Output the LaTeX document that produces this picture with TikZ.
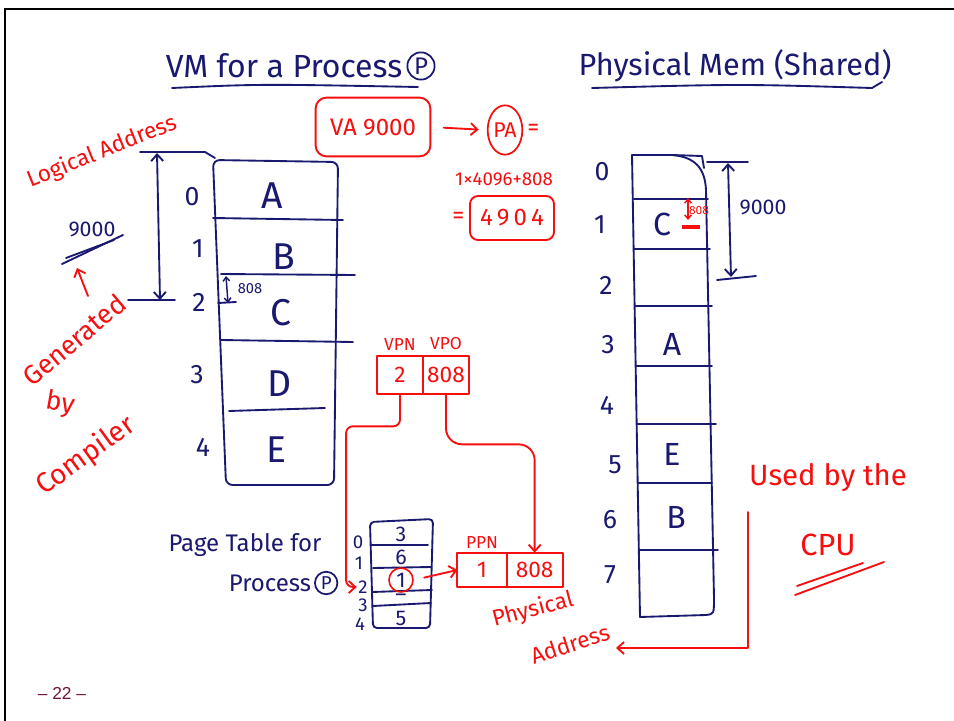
\documentclass[tikz,border=0pt]{standalone}
\usepackage{fontspec}
\setmainfont{Fira Sans}
\newfontfamily\slidefont{Liberation Sans}
\usetikzlibrary{arrows.meta,positioning,calc,shapes.geometric}
\definecolor{inkblue}{RGB}{25,25,112}
\definecolor{penred}{RGB}{245,15,15}
\definecolor{pagenum}{RGB}{112,22,64}
\newcommand{\fsz}[1]{\fontsize{#1}{#1}\selectfont}
\tikzset{
  ink/.style   ={draw=inkblue,line width=1.4pt,line cap=round,line join=round},
  pen/.style   ={draw=penred,line width=1.4pt,line cap=round,line join=round},
  ar/.style    ={-{Straight Barb[length=5pt,width=9pt]}},
  dar/.style   ={{Straight Barb[length=5pt,width=9pt]}-{Straight Barb[length=5pt,width=9pt]}},
  sdar/.style  ={{Straight Barb[length=3pt,width=5pt]}-{Straight Barb[length=3pt,width=5pt]}},
  bl/.style    ={text=inkblue,inner sep=1pt},
  rd/.style    ={text=penred,inner sep=1pt},
  cell/.style  ={bl,font=\fsz{28}},
  idx/.style   ={bl,font=\fsz{20}},
  rbox/.style  ={pen,rd,outer sep=0pt,font=\fsz{17}},
  circ/.style  ={circle,draw=inkblue,line width=1.3pt,text=inkblue,inner sep=1.5pt},
}
\begin{document}
\begin{tikzpicture}[x=0.75pt,y=-0.75pt]
  \useasboundingbox (0,0) rectangle (954,721);
  \fill[white] (0,0) rectangle (954,721);
  % slide frame and page number
  \draw[line width=2.2pt] (5,721) -- (5,9) -- (954,9);
  \node[font=\slidefont\fsz{13},text=pagenum] (pgno) at (62,693) {– 22 –};

  % titles
  \node[bl,font=\fsz{24}] (vmtitle) at (284,66) {VM for a Process};
  \node[circ,font=\fsz{18},right=2pt of vmtitle] (vmp) {P};
  \draw[ink] (172,88) .. controls (260,84) .. (418,87);
  \node[bl,font=\fsz{23}] (pmtitle) at (735,66) {Physical Mem (Shared)};
  \draw[ink] (592,88) .. controls (740,84) .. (872,88) -- (882,82);

  % virtual memory of process P
  \draw[ink,rounded corners=5pt] (213,160) -- (226,485) -- (334,485) -- (338,162) -- cycle;
  \draw[ink] (213,218) -- (343,220);
  \draw[ink] (221,274) -- (355,275);
  \draw[ink] (221,340) -- (353,342);
  \draw[ink] (229,411) -- (325,408);
  \foreach \n/\t/\x/\y in {vA/A/272/196,vB/B/284/257,vC/C/281/313,vD/D/280/384,vE/E/276/450}
    \node[cell] (\n) at (\x,\y) {\t};
  \foreach \i/\x/\y in {0/192/197,1/198/249,2/199/302,3/197/375,4/203/447}
    \node[idx] (vi\i) at (\x,\y) {\i};

  % logical address span
  \draw[ink] (140,152) -- (205,152) -- (215,158);
  \draw[ink] (128,300) -- (175,300);
  \coordinate (latop) at (157,153);
  \coordinate (labot) at (160,300);
  \draw[ink,dar] (latop) -- (labot);
  \coordinate (offtop) at (226,276);
  \coordinate (offbot) at (228,303);
  \draw[ink,sdar,line width=1.1pt] (offtop) -- (offbot);
  \draw[ink] (218,303) -- (236,302);
  \node[bl,font=\fsz{11}] (voff) at (250,289) {808};

  \node[rd,font=\fsz{17},rotate=22] (logaddr) at (102,152) {Logical Address};
  \node[bl,font=\fsz{16}] (nine) at (92,229) {9000};
  \draw[ink] (62,264) -- (123,235);
  \draw[ink] (66,258) -- (114,240);
  \node[rd,font=\fsz{20},rotate=40] (gen) at (74,340) {Generated};
  \node[rd,font=\fsz{20},rotate=-10] (by) at (60,404) {by};
  \node[rd,font=\fsz{21},rotate=36] (comp) at (86,456) {Compiler};
  \coordinate (genup) at (88,296);
  \coordinate (nineup) at (77,268);
  \draw[pen,ar] (genup) -- (nineup);

  % address translation
  \node[rbox,rounded corners=8pt,minimum width=86pt,minimum height=44pt,font=\fsz{18}] (va) at (373,127) {VA 9000};
  \node[rd,ellipse,draw=penred,line width=1.3pt,inner sep=0pt,minimum width=26pt,minimum height=37pt,font=\fsz{16}] (pa) at (505,130) {PA};
  \draw[pen,ar,shorten <=10pt,shorten >=6pt] (va.east) -- (pa.west);
  \node[rd,font=\fsz{18},right=2pt of pa] (paeq) {=};
  \node[rd,font=\fsz{14}] (pacalc) at (504,179) {1×4096+808};
  \node[rbox,rounded corners=6pt,minimum width=63pt,minimum height=33pt,font=\fsz{18}] (res) at (512,218) {4\,9\,0\,4};
  \node[rd,font=\fsz{18},left=3pt of res] (reseq) {=};

  % VPN / VPO
  \node[rbox,minimum width=34pt,minimum height=29pt] (vpn) at (400,375) {2};
  \node[rbox,minimum width=35pt,minimum height=29pt,right=0pt of vpn] (vpo) {808};
  \node[rd,font=\fsz{13},above=3pt of vpn] (vpnl) {VPN};
  \node[rd,font=\fsz{13},above=3pt of vpo] (vpol) {VPO};

  % page table
  \node[bl,font=\fsz{18}] (pttitle) at (245,545) {Page Table for};
  \node[bl,font=\fsz{18}] (ptproc) at (270,583) {Process};
  \node[circ,font=\fsz{14},right=1pt of ptproc] (ptp) {P};
  \draw[ink,rounded corners=3pt] (370,522) -- (373,628) -- (430,628) -- (433,519) -- cycle;
  \draw[ink] (371,545) -- (428,545);
  \draw[ink] (373,568) -- (431,567);
  \draw[ink] (372,592) -- (432,590);
  \draw[ink] (373,606) -- (431,603);
  \foreach \i/\x/\y in {0/358/542,1/359/563,2/363/587,3/363/605,4/360/624}
    \node[idx,font=\fsz{14}] (pi\i) at (\x,\y) {\i};
  \foreach \i/\v/\y in {0/3/534,1/6/557,2/1/580,3/–/598,4/5/618}
    \node[bl,font=\fsz{16}] (pv\i) at (401,\y) {\v};
  \node[circle,draw=penred,line width=1.2pt,minimum size=18pt,inner sep=0pt] (pv2c) at (pv2) {};

  % physical address
  \node[rbox,minimum width=37pt,minimum height=26pt] (ppn) at (482,570) {1};
  \node[rbox,minimum width=42pt,minimum height=26pt,right=0pt of ppn] (ppo) {808};
  \node[rd,font=\fsz{13},above=2pt of ppn] (ppnl) {PPN};
  \node[rd,font=\fsz{17},rotate=15] (phys) at (533,610) {Physical};
  \node[rd,font=\fsz{17},rotate=18] (addr) at (570,644) {Address};

  % connectors
  \draw[pen,ar,rounded corners=5pt] (vpn.south) -- ++(0,32) -| ([xshift=-8pt]pi2.west) -- (pi2.west);
  \draw[pen,ar,rounded corners=12pt] (vpo.south) -- ++(0,50) -| (ppo.north);
  \draw[pen,ar,shorten <=8pt] (pv2c.east) -- (ppn.west);

  % physical memory
  \draw[ink] (632,155) -- (640,617) -- (706,615) .. controls (714,614) .. (714,598) -- (706,190) .. controls (705,168) and (695,157) .. (672,155) -- cycle;
  \draw[ink] (672,155) -- (702,156) -- (704,168);
  \foreach \y/\xr in {199/708,249/710,306/712,366/712,424/716,483/712,550/718}
    \draw[ink] ({633+0.0173*(\y-155)},\y) -- (\xr,\y);
  \foreach \i/\x/\y in {0/602/172,1/600/225,2/606/285,3/608/345,4/607/405,5/615/465,6/610/520,7/610/575}
    \node[idx] (mi\i) at (\x,\y) {\i};
  \foreach \n/\t/\x/\y in {mC/C/662/224,mA/A/672/344,mE/E/672/454,mB/B/676/517}
    \node[cell,font=\fsz{24}] (\n) at (\x,\y) {\t};
  \coordinate (moftop) at (688,198);
  \coordinate (mofbot) at (688,220);
  \draw[pen,sdar,line width=1.1pt] (moftop) -- (mofbot);
  \node[rd,font=\fsz{9}] (moff) at (699,210) {808};
  \draw[penred,line width=2.4pt] (682,227) -- (700,227);

  % 9000 in physical memory
  \draw[ink] (707,162) -- (748,162);
  \draw[ink] (717,280) -- (756,276);
  \coordinate (mtop) at (728,163);
  \coordinate (mbot) at (731,277);
  \draw[ink,dar] (mtop) -- (mbot);
  \node[bl,font=\fsz{16}] (m9k) at (763,207) {9000};

  % used by the CPU
  \node[rd,font=\fsz{22}] (used) at (828,478) {Used by the};
  \node[rd,font=\fsz{23}] (cpu) at (828,545) {CPU};
  \draw[pen] (797,586) -- (863,563);
  \draw[pen] (795,595) -- (884,562);
  \coordinate (cpuln) at (748,512);
  \coordinate (paend) at (616,648);
  \draw[pen,ar] (cpuln) |- (paend);
\end{tikzpicture}
\end{document}
